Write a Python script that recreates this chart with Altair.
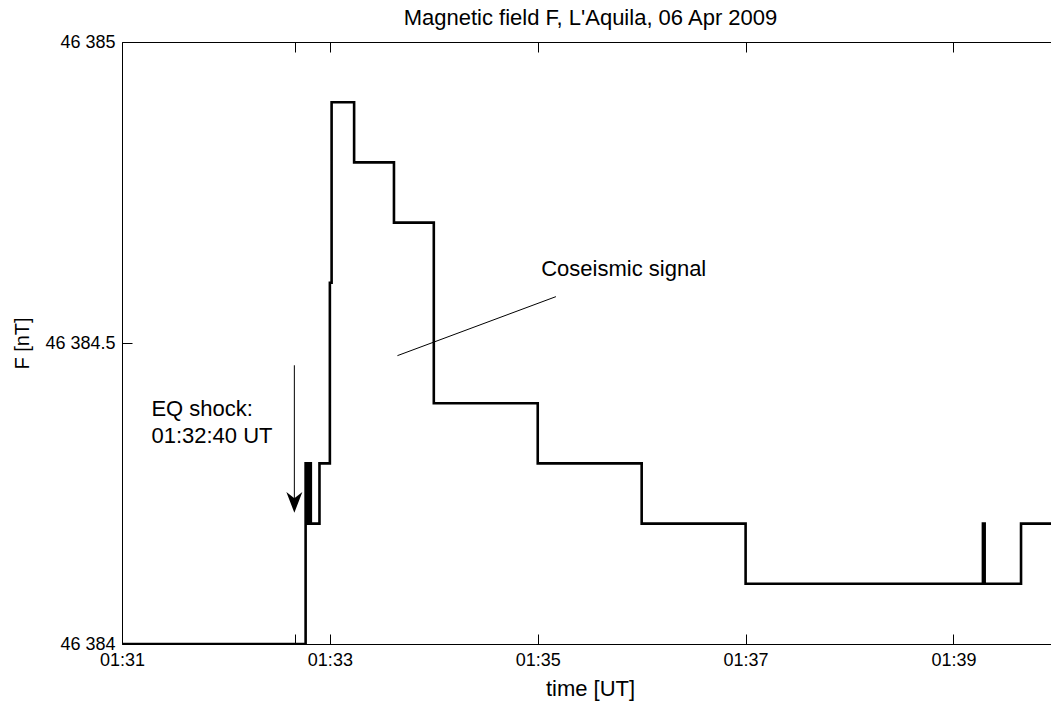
import altair as alt
import pandas as pd

DATE = "2009-04-06"

# magnetic field F samples (step changes)
TIMES = ["01:31:00", "01:32:46", "01:32:47", "01:32:48", "01:32:49", "01:32:54",
         "01:33:00", "01:33:01", "01:33:14", "01:33:37", "01:34:00", "01:35:00",
         "01:36:00", "01:37:00", "01:39:17", "01:39:18", "01:39:39", "01:40:00"]
F_NT = [46384.0, 46384.3, 46384.2, 46384.3, 46384.2, 46384.3,
        46384.6, 46384.9, 46384.8, 46384.7, 46384.4, 46384.3,
        46384.2, 46384.1, 46384.2, 46384.1, 46384.2, 46384.2]

X_START = "01:31:00"
X_END = "01:39:56.3"
X_LABEL_TICKS = ["01:31:00", "01:33:00", "01:35:00", "01:37:00", "01:39:00"]
X_ALL_TICKS = ["01:31:00", "01:32:40", "01:33:00", "01:35:00", "01:37:00", "01:39:00"]
Y_TICKS = [46384, 46384.5, 46385]
Y_DOMAIN = [46384, 46385]

TITLE = "Magnetic field F, L'Aquila, 06 Apr 2009"

# annotations
EQ_LINES = ["EQ shock:", "01:32:40 UT"]
EQ_T = "01:31:17"
EQ_F = [46384.378, 46384.334]
ARROW_T = "01:32:39.5"
ARROW_F = [46384.463, 46384.236]
SIGNAL_TEXT = "Coseismic signal"
SIGNAL_T = "01:35:02"
SIGNAL_F = 46384.612
POINTER_T = ["01:33:39", "01:35:10.5"]
POINTER_F = [46384.479, 46384.577]

FONT = "Liberation Sans"
W, H = 929, 602


def iso(hms):
    return f"{DATE}T{hms}Z"


def ms(hms):
    return int(pd.Timestamp(iso(hms)).value // 10**6)


xscale = alt.Scale(type="utc", domain=[ms(X_START), ms(X_END)])
yscale = alt.Scale(domain=Y_DOMAIN, nice=False, zero=False)

df = pd.DataFrame({"t": [iso(s) for s in TIMES], "F": F_NT})

x_label_axis = alt.Axis(
    orient="bottom", values=[ms(s) for s in X_LABEL_TICKS],
    labelExpr="utcFormat(datum.value, '%H:%M')", ticks=False, grid=False,
    domain=True, domainColor="black", domainWidth=1,
    labelFont=FONT, labelFontSize=18, labelColor="black", labelPadding=16,
    labelBaseline="middle", labelFlush=False, labelOverlap=False,
    title="time [UT]", titleFont=FONT, titleFontSize=22, titleFontWeight="normal",
    titleColor="black", titleX=468, titleY=44, titleBaseline="middle",
)
y_label_axis = alt.Axis(
    orient="left", values=Y_TICKS,
    labelExpr="replace(format(datum.value, ','), ',', ' ')", ticks=False, grid=False,
    domain=True, domainColor="black", domainWidth=1,
    labelFont=FONT, labelFontSize=18, labelColor="black", labelPadding=7,
    labelBaseline="middle", labelFlush=False, labelOverlap=False,
    title="F [nT]", titleFont=FONT, titleFontSize=20, titleFontWeight="normal",
    titleColor="black", titleX=-100, titleY=301, titleAngle=270,
    titleAlign="center", titleBaseline="middle",
)

line = alt.Chart(df).mark_line(
    interpolate="step-after", color="black", strokeWidth=2.6, clip=True
).encode(
    x=alt.X("t:T", scale=xscale, axis=x_label_axis),
    y=alt.Y("F:Q", scale=yscale, axis=y_label_axis),
)

# inward ticks on bottom edge (top-oriented axis moved down) and left edge
ticks_a = alt.Chart(df).mark_point(opacity=0).encode(
    x=alt.X("t:T", scale=xscale, title="", axis=alt.Axis(
        orient="top", offset=-H, values=[ms(s) for s in X_ALL_TICKS], labels=False,
        domain=False, grid=False, ticks=True, tickSize=10, tickColor="black", tickWidth=1)),
    y=alt.Y("F:Q", scale=yscale, title="", axis=alt.Axis(
        orient="right", offset=-W, values=Y_TICKS, labels=False,
        domain=False, grid=False, ticks=True, tickSize=10, tickColor="black", tickWidth=1)),
)
# inward ticks on top edge, the top frame line and the chart title
ticks_b = alt.Chart(df).mark_point(opacity=0).encode(
    x=alt.X("t:T", scale=xscale, axis=alt.Axis(
        orient="bottom", offset=-H, values=[ms(s) for s in X_ALL_TICKS], labels=False,
        domain=True, domainColor="black", domainWidth=1, grid=False, ticks=True,
        tickSize=10, tickColor="black", tickWidth=1,
        title=TITLE, titleFont=FONT, titleFontSize=22, titleFontWeight="normal",
        titleColor="black", titleX=468, titleY=-25, titleBaseline="middle")),
    y=alt.Y("F:Q", scale=yscale, axis=None),
)

eq_df = pd.DataFrame({"t": [iso(EQ_T)] * len(EQ_LINES), "F": EQ_F, "txt": EQ_LINES})
eq_text = alt.Chart(eq_df).mark_text(
    align="left", baseline="alphabetic", font=FONT, fontSize=22, color="black"
).encode(
    x=alt.X("t:T", scale=xscale, axis=None),
    y=alt.Y("F:Q", scale=yscale, axis=None),
    text="txt:N",
)

arrow_df = pd.DataFrame({"t": [iso(ARROW_T)], "F": [ARROW_F[0]], "F2": [ARROW_F[1]]})
arrow_line = alt.Chart(arrow_df).mark_rule(color="black", strokeWidth=1).encode(
    x=alt.X("t:T", scale=xscale, axis=None),
    y=alt.Y("F:Q", scale=yscale, axis=None),
    y2="F2:Q",
)
head_df = pd.DataFrame({"t": [iso(ARROW_T)], "F": [ARROW_F[1]]})
arrow_head = alt.Chart(head_df).mark_point(
    shape="M0,1.35 L-1,-1.25 L0,-0.45 L1,-1.25 Z", filled=True, size=256,
    color="black", opacity=1, strokeWidth=0,
).encode(
    x=alt.X("t:T", scale=xscale, axis=None),
    y=alt.Y("F:Q", scale=yscale, axis=None),
)

sig_df = pd.DataFrame({"t": [iso(SIGNAL_T)], "F": [SIGNAL_F], "txt": [SIGNAL_TEXT]})
sig_text = alt.Chart(sig_df).mark_text(
    align="left", baseline="alphabetic", font=FONT, fontSize=22, color="black"
).encode(
    x=alt.X("t:T", scale=xscale, axis=None),
    y=alt.Y("F:Q", scale=yscale, axis=None),
    text="txt:N",
)
ptr_df = pd.DataFrame({"t": [iso(POINTER_T[0])], "t2": [iso(POINTER_T[1])],
                       "F": [POINTER_F[0]], "F2": [POINTER_F[1]]})
pointer = alt.Chart(ptr_df).mark_rule(color="black", strokeWidth=1).encode(
    x=alt.X("t:T", scale=xscale, axis=None),
    x2="t2:T",
    y=alt.Y("F:Q", scale=yscale, axis=None),
    y2="F2:Q",
)

chart = alt.layer(
    ticks_a, ticks_b, pointer, arrow_line, arrow_head, eq_text, sig_text, line
).resolve_axis(
    x="independent", y="independent"
).properties(
    width=W, height=H,
    autosize=alt.AutoSizeParams(type="none"),
    padding={"left": 122, "top": 42, "right": 0, "bottom": 58},
    background="white",
).configure_view(stroke=None)

chart.save("out.html", embed_options={"renderer": "svg", "actions": False})
